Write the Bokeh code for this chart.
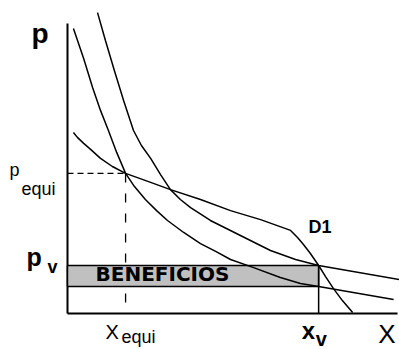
from bokeh.plotting import figure
from bokeh.models import Range1d, Label
from bokeh.embed import file_html
from bokeh.resources import INLINE

# ---- data ----
# lower cost curve
x_c1 = [1.8, 4.9, 7.6, 10.0, 12.4, 14.9, 17.6, 20.3, 23.6, 27.0, 30.3, 35.2, 40.3, 44.9, 49.4, 56.4, 64.5, 70.6, 76.1, 98.8]
p_c1 = [95.0, 85.0, 75.3, 67.7, 61.0, 53.7, 46.7, 42.3, 38.0, 34.3, 31.0, 27.0, 23.3, 20.7, 18.0, 15.3, 12.0, 10.0, 9.0, 4.7]
# upper cost curve
x_c2 = [9.1, 11.5, 14.2, 17.0, 20.0, 22.4, 25.2, 28.2, 31.2, 34.2, 37.3, 43.3, 52.4, 61.5, 69.1, 76.1, 100.6]
p_c2 = [100.3, 91.0, 81.0, 71.0, 61.0, 56.0, 51.7, 46.3, 41.3, 38.0, 35.3, 31.0, 26.0, 21.0, 18.0, 16.0, 11.3]
# demand curve D1
x_d1 = [1.8, 3.0, 4.9, 7.0, 10.0, 13.6, 17.6, 25.2, 31.2, 40.3, 49.4, 58.5, 67.6, 69.7, 71.5, 73.6, 76.1, 78.2, 80.6, 83.3, 86.4]
p_d1 = [60.3, 58.7, 56.7, 54.7, 51.7, 49.0, 46.7, 43.7, 41.3, 38.0, 34.3, 31.3, 27.7, 25.3, 23.0, 20.0, 16.0, 12.3, 8.3, 4.3, 0.3]

x_equi, p_equi = 17.6, 46.7
x_v, p_v = 76.1, 16.0
cost_v = 9.0
KINK = 12  # index of the D1 point next to its label

X_AXIS_END = 100.0
P_AXIS_TOP = 96.7

FONT = "Liberation Sans"
SHIFT = -8  # baseline correction for rendered labels

p = figure(width=399, height=349, output_backend="svg", toolbar_location=None,
           x_range=Range1d(-20.3, 100.6), y_range=Range1d(-12.0, 104.33),
           min_border=0)
p.axis.visible = False
p.grid.visible = False
p.outline_line_color = None
p.background_fill_color = "white"
p.border_fill_color = "white"

# axes
p.line([0, 0], [0, P_AXIS_TOP], line_color="black", line_width=2)
p.line([0, X_AXIS_END], [0, 0], line_color="black", line_width=2)

# dashed guides
p.line([0, x_equi], [p_equi, p_equi], line_color="black", line_width=1.3, line_dash="6 4")
p.line([x_equi, x_equi], [p_equi, 0], line_color="black", line_width=1.3, line_dash="9 11")

# profit rectangle
p.quad(left=[0], right=[x_v], bottom=[cost_v], top=[p_v],
       fill_color="#c0c0c0", line_color="black", line_width=1.5)
p.line([x_v, x_v], [p_v, 0], line_color="black", line_width=1.5)

# curves
for xs, ys in ((x_c1, p_c1), (x_c2, p_c2), (x_d1, p_d1)):
    p.line(xs, ys, line_color="black", line_width=1.5)


def lab(text, x, y, dx, dy, size, bold=False, align="left", font=FONT):
    p.add_layout(Label(x=x, y=y, x_offset=dx, y_offset=-(dy + SHIFT), text=text,
                       text_font=font, text_font_size=f"{size}px",
                       text_font_style="bold" if bold else "normal",
                       text_align=align, text_baseline="alphabetic",
                       text_color="black"))


lab("p", 0, P_AXIS_TOP, -36, 18, 28, bold=True)
lab("p", 0, p_equi, -58, 5, 18)
lab("equi", 0, p_equi, -46, 24, 18)
lab("p", 0, p_v, -41, 0, 25, bold=True)
lab("v", 0, p_v, -20, 10, 18, bold=True)
lab("X", x_equi, 0, -20, 27, 20)
lab("equi", x_equi, 0, -4, 32, 18)
lab("x", x_v, 0, -17, 25, 24, bold=True)
lab("v", x_v, 0, -3, 34, 20, bold=True)
lab("X", X_AXIS_END, 0, -2, 29, 26, align="right")
lab("D1", x_d1[KINK], p_d1[KINK], 18, 5, 18, bold=True)
lab("BENEFICIOS", 0, cost_v, 28, -4, 20, bold=True, font="DejaVu Sans")

open("out.html", "w").write(file_html(p, INLINE))
